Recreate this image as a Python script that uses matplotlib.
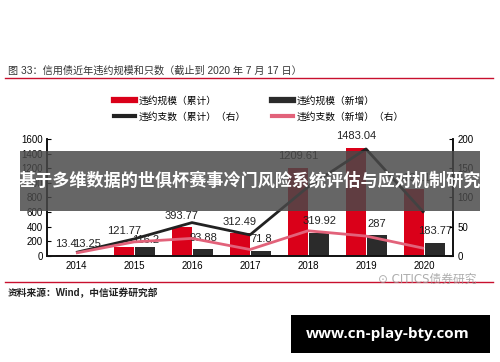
import numpy as np
import matplotlib
matplotlib.use('Agg')
import matplotlib.pyplot as plt
from matplotlib.lines import Line2D
from matplotlib.patches import Rectangle

plt.rcParams['font.family'] = ['Liberation Sans', 'Noto Sans CJK SC']

#----データ----#
years = ['2014', '2015', '2016', '2017', '2018', '2019', '2020']
scale_total = [13.4, 121.77, 393.77, 312.49, 1209.61, 1483.04, 919.11]   # 違約規模（累計）
scale_new = [13.25, 116.2, 93.88, 71.8, 319.92, 287, 183.77]            # 違約規模（新増）
count_total = [6, 29, 57, 36, 118, 183, 74]    # 違約支数（累計）（右）
count_new = [5, 24, 30, 11, 43, 34, 13]        # 違約支数（新増）（右）

red = '#DA0019'
dark = '#2B2B2B'
pink = '#E2627A'

fig = plt.figure(figsize=(5, 3.62), dpi=100)
ax = fig.add_axes([0.094, 0.293, 0.812, 0.323])
ax2 = ax.twinx()

x = np.arange(len(years))
w = 0.345
ax.bar(x - w/2, scale_total, width=w, color=red, zorder=2)
ax.bar(x + w/2 + 0.02, scale_new, width=w, color=dark, zorder=2)

# データラベル（2015年だけ重ならないよう上下にずらす）
for i, (xi, v) in enumerate(zip(x - w/2, scale_total)):
    dy = 8 if i == 1 else 4.5
    ax.annotate(f'{v:g}', (xi, v), xytext=(0, dy), textcoords='offset points',
                ha='center', va='bottom', fontsize=8, color='#222222')
for i, (xi, v) in enumerate(zip(x + w/2 + 0.02, scale_new)):
    dy = 1.5 if i == 1 else 4.5
    ax.annotate(f'{v:g}', (xi, v), xytext=(0, dy), textcoords='offset points',
                ha='center', va='bottom', fontsize=8, color='#222222')

ax2.plot(x, count_total, color='#222222', linewidth=2, solid_capstyle='butt')
ax2.plot(x, count_new, color=pink, linewidth=2, solid_capstyle='butt')

ax.set_xlim(-0.5, 6.5)
ax.set_ylim(0, 1600)
ax.set_yticks(np.arange(0, 1601, 200))
ax2.set_ylim(0, 200)
ax2.set_yticks(np.arange(0, 201, 50))
ax.set_xticks(x)
ax.set_xticklabels(years)

ax.tick_params(axis='x', length=0, labelsize=7, pad=4)
ax.tick_params(axis='y', direction='in', length=3, labelsize=7, pad=3)
ax2.tick_params(axis='y', direction='in', length=3, labelsize=7, pad=3)
for a in (ax, ax2):
    a.spines['top'].set_visible(False)
    for s in ('left', 'right', 'bottom'):
        a.spines[s].set_linewidth(1.2)
        a.spines[s].set_color('#111111')

# 凡例
handles = [Line2D([], [], color=red, lw=4.5),
           Line2D([], [], color='#222222', lw=3),
           Line2D([], [], color=dark, lw=4.5),
           Line2D([], [], color=pink, lw=3)]
labels = ['违约规模（累计）', '违约支数（累计）（右）', '违约规模（新增）', '违约支数（新增）（右）']
fig.legend(handles, labels, ncol=2, loc='upper left', bbox_to_anchor=(0.21, 0.76),
           frameon=False, fontsize=7, handlelength=2.2, handletextpad=0.4,
           columnspacing=2.6, labelspacing=0.6)

# タイトルと出典
fig.text(0.016, 0.805, '图 33：信用债近年违约规模和只数（截止到 2020 年 7 月 17 日）',
         fontsize=7.3, color='#333333', va='center')
fig.add_artist(Line2D([0.01, 0.985], [0.785, 0.785], color='#C8102E', lw=1))
fig.add_artist(Line2D([0.01, 0.985], [0.221, 0.221], color='#C8102E', lw=1))
fig.text(0.016, 0.19, '资料来源：Wind，中信证券研究部', fontsize=7,
         color='#222222', va='center', fontweight='bold')
fig.text(0.755, 0.228, '⊙ CITICS债券研究', fontsize=8.5, color='#999999',
         va='center', alpha=0.8, zorder=6, family=['DejaVu Sans', 'Noto Sans CJK SC'])

# オーバーレイ
fig.add_artist(Rectangle((0.04, 0.417), 0.92, 0.166, transform=fig.transFigure,
                         facecolor='#494949', alpha=0.84, edgecolor='none', zorder=5))
fig.text(0.5, 0.5, '基于多维数据的世俱杯赛事冷门风险系统评估与应对机制研究',
         fontsize=12.3, color='white', fontweight='bold', ha='center', va='center',
         family=['Noto Sans CJK SC'], zorder=6)
fig.add_artist(Rectangle((0.582, 0.025), 0.398, 0.105, transform=fig.transFigure,
                         facecolor='black', edgecolor='none', zorder=5))
fig.text(0.776, 0.078, 'www.cn-play-bty.com', fontsize=11, color='white',
         fontweight='bold', ha='center', va='center', family=['Open Sans'], zorder=6)

fig.savefig('out.png', dpi=100)
